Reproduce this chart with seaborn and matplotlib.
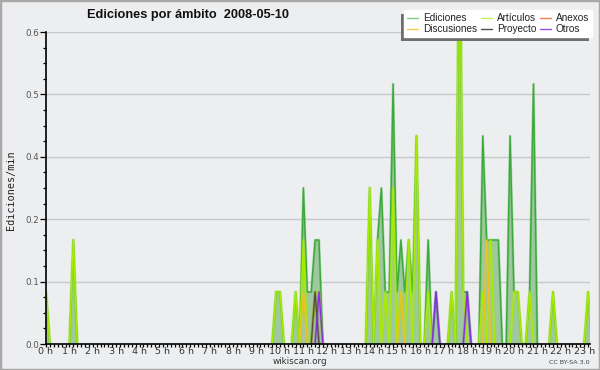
import numpy as np
import pandas as pd
import matplotlib
matplotlib.use("Agg")
import matplotlib.pyplot as plt
import seaborn as sns
from matplotlib.patches import Rectangle
from matplotlib.lines import Line2D
from matplotlib.ticker import FixedLocator, MultipleLocator

# ---- data: edits/min per 10-minute bin (bin index -> value), zeros elsewhere
n_bins = 144
ediciones = {0: 0.1, 7: 0.2, 59: 0.1, 60: 0.1, 64: 0.1, 66: 0.3, 67: 0.1, 68: 0.1,
             69: 0.2, 70: 0.2, 83: 0.3, 85: 0.2, 86: 0.3, 87: 0.1, 88: 0.1, 89: 0.5,
             90: 0.1, 91: 0.2, 92: 0.1, 93: 0.2, 94: 0.1, 95: 0.4, 98: 0.2, 100: 0.1,
             104: 0.1, 106: 0.9, 107: 0.1, 108: 0.1, 112: 0.4, 113: 0.2, 114: 0.2,
             115: 0.2, 116: 0.2, 119: 0.4, 120: 0.1, 121: 0.1, 124: 0.1, 125: 0.5,
             130: 0.1, 139: 0.1}
articulos = {0: 0.1, 7: 0.2, 59: 0.1, 60: 0.1, 64: 0.1, 66: 0.2, 69: 0.1, 70: 0.1,
             83: 0.3, 85: 0.2, 87: 0.1, 89: 0.3, 91: 0.1, 93: 0.2, 95: 0.4, 98: 0.1,
             104: 0.1, 106: 0.9, 107: 0.1, 112: 0.1, 114: 0.2, 120: 0.1, 121: 0.1,
             124: 0.1, 130: 0.1, 139: 0.1}
discusiones = {66: 0.1, 91: 0.1, 113: 0.2}
proyecto = {69: 0.1}
anexos = {}
otros = {70: 0.1, 100: 0.1, 108: 0.1}

series_names = ["Ediciones", "Artículos", "Anexos", "Discusiones", "Proyecto", "Otros"]
series_data = [ediciones, articulos, anexos, discusiones, proyecto, otros]
colors = {"Ediciones": "#3aaa3a", "Artículos": "#a8ec00", "Anexos": "#f07a4a",
          "Discusiones": "#f0c020", "Proyecto": "#5a4b3c", "Otros": "#8a2be8"}
legend_colors = {"Ediciones": "#7fcf7f", "Artículos": "#c8f25a", "Anexos": "#f08050",
                 "Discusiones": "#f5cf4a", "Proyecto": "#505050", "Otros": "#9a4cf0"}

y_ticks = [0.0, 0.12, 0.24, 0.36, 0.48, 0.6]
y_tick_labels = ["0.0", "0.1", "0.2", "0.4", "0.5", "0.6"]
x_tick_labels = [f"{h} h" for h in range(24)]

title = "Ediciones por ámbito  2008-05-10"

# ---- frame
bins = np.arange(n_bins)
df = pd.DataFrame({"hora": bins / 6.0})
for name, d in zip(series_names, series_data):
    df[name] = [d.get(i, 0.0) for i in bins]


def segments(name):
    """Rows of a series that belong to a non-zero stretch (plus its zero ends),
    with a run id so that separate stretches are not joined."""
    v = df[name].to_numpy()
    nz = v != 0
    keep = nz.copy()
    keep[1:] |= nz[:-1]
    keep[:-1] |= nz[1:]
    run = np.cumsum(np.r_[True, ~keep[:-1]] & keep)
    out = df.loc[keep, ["hora", name]].copy()
    out["seg"] = run[keep]
    return out


sns.set_theme(style="white")
plt.rcParams["font.family"] = ["DejaVu Sans"]
bg = "#edeef0"

fig = plt.figure(figsize=(6, 3.7), dpi=100, facecolor=bg)
ax = fig.add_axes([46 / 600, 26 / 370, 544 / 600, 312 / 370])
ax.set_facecolor(bg)

# grid
for yt in y_ticks[1:]:
    ax.axhline(yt, color="#c9c9c9", lw=1.0, zorder=0)

# total area
ax.fill_between(df["hora"], 0, df["Ediciones"], color="#9fc89f", lw=0, zorder=1)


def draw(name, lw_core=0.9, lw_glow=2.0, z=2):
    seg = segments(name)
    if seg.empty:
        return
    sns.lineplot(data=seg, x="hora", y=name, units="seg", estimator=None, ax=ax,
                 color=colors[name], lw=lw_glow, alpha=0.35, zorder=z, legend=False)
    sns.lineplot(data=seg, x="hora", y=name, units="seg", estimator=None, ax=ax,
                 color=colors[name], lw=lw_core, zorder=z + 0.1, legend=False)


draw("Ediciones", lw_core=1.0, lw_glow=1.8, z=2)
draw("Artículos", lw_core=1.0, lw_glow=2.4, z=3)
draw("Anexos", z=4)
draw("Discusiones", z=4)
draw("Proyecto", z=4)
draw("Otros", z=4)

ax.set_xlim(0, 544 / 23.4)
ax.set_ylim(0, 0.6)
ax.set_xlabel("")
ax.set_ylabel("")

ax.set_xticks(list(range(24)))
ax.set_xticklabels(x_tick_labels)
ax.xaxis.set_minor_locator(MultipleLocator(1 / 6))
ax.set_yticks(y_ticks)
ax.set_yticklabels(y_tick_labels)
ax.yaxis.set_minor_locator(MultipleLocator(0.03))

ax.tick_params(axis="x", which="both", direction="out", length=2.3, width=0.9,
               color="black", labelsize=6.8, labelcolor="#333333", pad=0.2, bottom=True)
ax.tick_params(axis="y", which="major", direction="out", length=4.3, width=0.9,
               color="black", labelsize=6.3, labelcolor="#555555", pad=0.5, left=True)
ax.tick_params(axis="y", which="minor", direction="out", length=2.0, width=0.9,
               color="black", left=True)

for s in ["top", "right"]:
    ax.spines[s].set_visible(False)
for s in ["left", "bottom"]:
    ax.spines[s].set_color("black")
    ax.spines[s].set_linewidth(1.2)
    ax.spines[s].set_zorder(6)

# legend
order = ["Ediciones", "Discusiones", "Artículos", "Proyecto", "Anexos", "Otros"]
handles = [Line2D([0], [0], color=legend_colors[n], lw=1.0) for n in order]
leg = ax.legend(handles, order, ncol=3, loc="upper right",
                bbox_to_anchor=(592 / 600, 1 - 10 / 370), bbox_transform=fig.transFigure,
                frameon=True, fancybox=False,
                prop={"family": ["Liberation Sans", "DejaVu Sans"], "size": 7.2},
                handlelength=1.1, handletextpad=0.5, columnspacing=0.35,
                labelspacing=0.12, borderpad=0.3, borderaxespad=0)
leg.get_frame().set_facecolor("white")
leg.get_frame().set_edgecolor("white")
leg.get_frame().set_alpha(1)
leg.set_zorder(20)
for t in leg.get_texts():
    t.set_color("#222222")

fig.canvas.draw()
bb = leg.get_window_extent()
inv = fig.transFigure.inverted()
(x0, y0) = inv.transform((bb.x0 - 3, bb.y0 - 4))
(x1, y1) = inv.transform((bb.x1 - 3, bb.y1 - 4))
ax.add_patch(Rectangle((x0, y0), x1 - x0, y1 - y0, transform=fig.transFigure,
                       facecolor="#6e6e6e", edgecolor="none", zorder=19, clip_on=False))

# texts
fig.text(188 / 600, 1 - 15 / 370, title, ha="center", va="center",
         fontweight="bold", fontsize=9.2, color="#111111",
         family=["Liberation Sans", "DejaVu Sans"])
fig.text(11 / 600, 1 - 190 / 370, "Ediciones/min", rotation=90, ha="center", va="center",
         family=["DejaVu Sans Mono"], fontsize=7.3, color="#222222")
fig.text(300 / 600, 1 - 362 / 370, "wikiscan.org", ha="center", va="center",
         fontsize=6.3, color="#333333")
fig.text(590 / 600, 1 - 362 / 370, "CC BY-SA 3.0", ha="right", va="center",
         fontsize=4.6, color="#444444")

# outer border
fig.patches.append(Rectangle((0, 0), 1, 1, transform=fig.transFigure, fill=False,
                             edgecolor="#a9a9a9", lw=2.5, zorder=30))

fig.savefig("out.png", dpi=100, facecolor=bg)
